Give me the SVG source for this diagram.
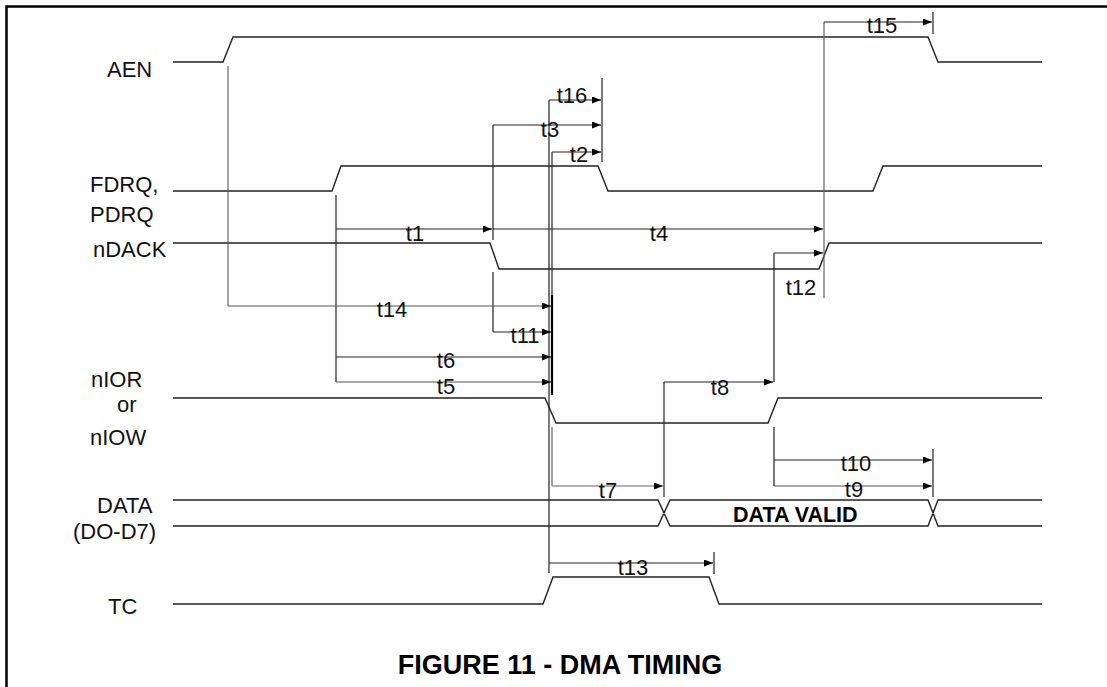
<svg xmlns="http://www.w3.org/2000/svg" width="1107" height="687" viewBox="0 0 1107 687">
<defs>
<marker id="ah" markerUnits="userSpaceOnUse" markerWidth="10" markerHeight="8" refX="9" refY="3.5" orient="auto">
<path d="M0,0 L9,3.5 L0,7 z" fill="#000"/>
</marker>
<style>
.sig{fill:none;stroke:#222;stroke-width:1.4}
.con line,.con path{fill:none;stroke:#222;stroke-width:1.2}
.arr{marker-end:url(#ah)}
.lbl{font-family:"Liberation Sans",Arial,sans-serif;font-size:22px;fill:#111}
.t{font-family:"Liberation Sans",Arial,sans-serif;font-size:22px;fill:#111;text-anchor:middle}
.b{font-family:"Liberation Sans",Arial,sans-serif;font-weight:bold;fill:#000}
</style>
</defs>
<rect width="1107" height="687" fill="#fff"/>
<rect x="6.5" y="6.5" width="1120" height="700" fill="none" stroke="#000" stroke-width="2.5"/>

<g id="sig-aen">
<text class="lbl" x="107" y="77">AEN</text>
<path class="sig" d="M173,62 H223 L233,37 H928 L938,62 H1042"/>
</g>
<g id="sig-fdrq">
<text class="lbl" x="90" y="192">FDRQ,</text>
<text class="lbl" x="90" y="222">PDRQ</text>
<path class="sig" d="M173,191 H332 L341,166 H598 L608,191 H873 L883,166 H1042"/>
</g>
<g id="sig-ndack">
<text class="lbl" x="93" y="257">nDACK</text>
<path class="sig" d="M173,243 H490 L499,269 H819 L829,243 H1042"/>
</g>
<g id="sig-nior">
<text class="lbl" x="91" y="387">nIOR</text>
<text class="lbl" x="117" y="412">or</text>
<text class="lbl" x="90" y="445">nIOW</text>
<path class="sig" d="M173,398 H545 L556,423 H768 L778,398 H1042"/>
</g>
<g id="sig-data">
<text class="lbl" x="97" y="513">DATA</text>
<text class="lbl" x="73" y="539">(DO-D7)</text>
<path class="sig" d="M173,500 H658 L670,526 H928 L938,500 H1042 M173,526 H658 L670,500 H928 L938,526 H1042"/>
<text class="b" x="733" y="522" font-size="21.5">DATA VALID</text>
</g>
<g id="sig-tc">
<text class="lbl" x="108" y="614">TC</text>
<path class="sig" d="M173,604 H543 L553,577 H709 L719,604 H1042"/>
</g>

<g id="connectors" class="con">
<line x1="228" y1="66" x2="228" y2="306" style="stroke:#666"/>
<line x1="336" y1="195" x2="336" y2="382"/>
<line x1="493" y1="125" x2="493" y2="240"/>
<line x1="493" y1="272" x2="493" y2="332"/>
<line x1="549" y1="100" x2="549" y2="573"/>
<line x1="552" y1="152" x2="552" y2="395"/>
<line x1="552" y1="295" x2="552" y2="395" style="stroke-width:2.2;stroke:#000"/>
<line x1="552" y1="427" x2="552" y2="486" style="stroke:#666"/>
<line x1="602" y1="78" x2="602" y2="162"/>
<line x1="664" y1="382" x2="664" y2="497"/>
<line x1="714" y1="552" x2="714" y2="574"/>
<line x1="774" y1="253" x2="774" y2="382"/>
<line x1="774" y1="427" x2="774" y2="486"/>
<line x1="824" y1="22" x2="824" y2="298" style="stroke:#666"/>
<line x1="933" y1="12" x2="933" y2="34"/>
<line x1="933" y1="449" x2="933" y2="497"/>

<line class="arr" x1="824" y1="22" x2="932" y2="22"/>
<line class="arr" x1="549" y1="100" x2="601" y2="100"/>
<line class="arr" x1="493" y1="125" x2="601" y2="125"/>
<line class="arr" x1="552" y1="152" x2="601" y2="152"/>
<line class="arr" x1="336" y1="229" x2="492" y2="229"/>
<line class="arr" x1="493" y1="229" x2="823" y2="229"/>
<line class="arr" x1="774" y1="253" x2="823" y2="253"/>
<line class="arr" x1="228" y1="306" x2="551" y2="306" style="stroke:#555"/>
<line class="arr" x1="493" y1="332" x2="551" y2="332"/>
<line class="arr" x1="336" y1="357" x2="551" y2="357"/>
<line class="arr" x1="336" y1="382" x2="551" y2="382" style="stroke:#555"/>
<line class="arr" x1="664" y1="382" x2="773" y2="382"/>
<line class="arr" x1="774" y1="460" x2="932" y2="460"/>
<line class="arr" x1="774" y1="486" x2="932" y2="486" style="stroke:#555"/>
<line class="arr" x1="552" y1="486" x2="663" y2="486" style="stroke:#666"/>
<line class="arr" x1="549" y1="563" x2="713" y2="563"/>

<text class="t" x="882" y="33">t15</text>
<text class="t" x="572" y="103">t16</text>
<text class="t" x="550" y="137">t3</text>
<text class="t" x="579" y="162">t2</text>
<text class="t" x="415" y="241">t1</text>
<text class="t" x="659" y="241">t4</text>
<text class="t" x="801" y="295">t12</text>
<text class="t" x="392" y="317">t14</text>
<text class="t" x="525" y="343">t11</text>
<text class="t" x="446" y="368">t6</text>
<text class="t" x="446" y="394">t5</text>
<text class="t" x="720" y="395">t8</text>
<text class="t" x="856" y="471">t10</text>
<text class="t" x="854" y="497">t9</text>
<text class="t" x="608" y="498">t7</text>
<text class="t" x="633" y="575">t13</text>
</g>

<text class="b" x="560" y="674" font-size="27" text-anchor="middle">FIGURE 11 - DMA TIMING</text>
</svg>
